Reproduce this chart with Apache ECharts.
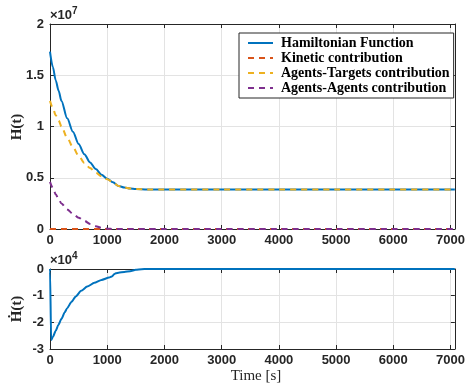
<!DOCTYPE html>
<html><head><meta charset="utf-8">
<script src="https://cdn.jsdelivr.net/npm/echarts@6/dist/echarts.min.js"></script>
<style>html,body{margin:0;padding:0;background:#fff}#c{width:468px;height:387px}</style>
</head><body><div id="c"></div>
<script>
// Top panel: H(t) in units of 1e7
const tTop = [0,50,100,150,200,300,400,500,600,700,800,900,1000,1100,1200,1300,1400,1500,1700,2000,3000,4000,5000,6000,7075];
const hamiltonian = [1.73,1.58,1.45,1.35,1.25,1.08,0.95,0.83,0.73,0.65,0.585,0.53,0.49,0.455,0.42,0.405,0.395,0.39,0.386,0.385,0.385,0.385,0.385,0.385,0.385];
const kinetic = [0,0,0,0,0,0,0,0,0,0,0,0,0,0,0,0,0,0,0,0,0,0,0,0,0];
const agentsTargets = [1.25,1.18,1.11,1.06,1.00,0.89,0.80,0.715,0.645,0.595,0.55,0.515,0.485,0.455,0.42,0.405,0.395,0.39,0.386,0.385,0.385,0.385,0.385,0.385,0.385];
const agentsAgents = [0.46,0.40,0.34,0.29,0.25,0.19,0.15,0.11,0.08,0.05,0.028,0.012,0.003,0,0,0,0,0,0,0,0,0,0,0,0];
// Bottom panel: dH/dt in units of 1e4
const tBot = [0,1,20,50,100,143,200,258,300,373,450,545,650,775,900,1033,1090,1119,1150,1200,1300,1400,1500,1600,1700,7075];
const hDot = [0,-0.1,-2.66,-2.55,-2.32,-2.11,-1.87,-1.62,-1.47,-1.24,-1.03,-0.82,-0.66,-0.52,-0.41,-0.32,-0.27,-0.2,-0.16,-0.14,-0.11,-0.08,-0.03,-0.005,0,0];
const xTicks = [0,1000,2000,3000,4000,5000,6000,7000];
const topYTicks = [0,0.5,1,1.5,2];
const botYTicks = [-3,-2,-1,0];
const seriesNames = ['Hamiltonian Function','Kinetic contribution','Agents-Targets contribution','Agents-Agents contribution'];

const X_MAX = 7075;
const axisCol = '#262626';
const gridCol = '#e3e3e3';
const tickFont = {fontFamily:'Liberation Sans, Arial, sans-serif', fontWeight:'bold', fontSize:13, color:'#262626'};
const zip = (xs, ys) => xs.map((x,i)=>[x, ys[i]]);

function xAx(gi, pos, labels){
  return {type:'value', gridIndex:gi, position:pos, min:0, max:X_MAX, interval:1000,
    axisLine:{show:true, onZero:false, lineStyle:{color:axisCol, width:1}},
    axisTick:{show:true, inside:true, length:4, lineStyle:{color:axisCol}},
    axisLabel:{show:labels, showMaxLabel:false, margin:5, formatter:v => xTicks.includes(v) ? String(v) : '', ...tickFont},
    splitLine:{show:pos==='bottom', lineStyle:{color:gridCol, width:1}}};
}
function yAx(gi, pos, min, max, interval, labels, ticks){
  return {type:'value', gridIndex:gi, position:pos, min, max, interval,
    axisLine:{show:true, onZero:false, lineStyle:{color:axisCol, width:1}},
    axisTick:{show:true, inside:true, length:4, lineStyle:{color:axisCol}},
    axisLabel:{show:labels, margin:6, formatter:v => ticks.includes(v) ? String(v) : '', ...tickFont},
    splitLine:{show:pos==='left', lineStyle:{color:gridCol, width:1}}};
}
const chart = echarts.init(document.getElementById('c'), null, {renderer:'canvas'});
const line = (name, data, color, dashed, xi, yi, smooth) => ({
  name, type:'line', data, xAxisIndex:xi, yAxisIndex:yi, showSymbol:false, symbol:'none',
  smooth: smooth, smoothMonotone:'x', animation:false,
  lineStyle:{color, width:2, type: dashed ? [6,5] : 'solid'}, itemStyle:{color}
});
chart.setOption({
  animation:false,
  grid:[{left:50, top:24, width:411, height:205}, {left:50, top:269, width:411, height:80}],
  xAxis:[xAx(0,'bottom',true), xAx(0,'top',false), xAx(1,'bottom',true), xAx(1,'top',false)],
  yAxis:[yAx(0,'left',0,2,0.5,true,topYTicks), yAx(0,'right',0,2,0.5,false,topYTicks), yAx(1,'left',-3,0,1,true,botYTicks), yAx(1,'right',-3,0,1,false,botYTicks)],
  legend:{left:239, top:33, orient:'vertical', data:seriesNames, backgroundColor:'#fff',
    itemStyle:{opacity:0},
    borderColor:axisCol, borderWidth:1, padding:[3,4,3,8], itemGap:1, itemWidth:25, itemHeight:10,
    textStyle:{fontFamily:'Liberation Serif, DejaVu Serif, serif', fontWeight:'bold', fontSize:14, lineHeight:14, color:'#000', padding:[0,0,0,3]}},
  series:[
    line(seriesNames[0], zip(tTop, hamiltonian), '#0072BD', false, 0, 0, 0.3),
    line(seriesNames[1], zip(tTop, kinetic), '#D95319', true, 0, 0, false),
    line(seriesNames[2], zip(tTop, agentsTargets), '#EDB120', true, 0, 0, 0.3),
    line(seriesNames[3], zip(tTop, agentsAgents), '#7E2F8E', true, 0, 0, 0.3),
    line('Hdot', zip(tBot, hDot), '#0072BD', false, 2, 2, 0.2)
  ],
  graphic:[
    {type:'text', left:50, top:6, style:{text:'×10{s|7}', rich:{s:{fontSize:10, verticalAlign:'top', fontFamily:'Liberation Sans, Arial', fontWeight:'bold', fill:'#262626', padding:[0,0,8,0]}}, fontFamily:'Liberation Sans, Arial', fontWeight:'bold', fontSize:13, fill:'#262626'}},
    {type:'text', left:50, top:251, style:{text:'×10{s|4}', rich:{s:{fontSize:10, verticalAlign:'top', fontFamily:'Liberation Sans, Arial', fontWeight:'bold', fill:'#262626', padding:[0,0,8,0]}}, fontFamily:'Liberation Sans, Arial', fontWeight:'bold', fontSize:13, fill:'#262626'}},
    {type:'text', x:17, y:127, rotation:Math.PI/2, style:{text:'H(t)', fontFamily:'Liberation Serif, DejaVu Serif, serif', fontWeight:'bold', fontSize:15, fill:'#262626', align:'center', verticalAlign:'middle'}},
    {type:'text', x:17, y:309, rotation:Math.PI/2, style:{text:'Ḣ(t)', fontFamily:'Liberation Serif, DejaVu Serif, serif', fontWeight:'bold', fontSize:15, fill:'#262626', align:'center', verticalAlign:'middle'}},
    {type:'text', x:256, y:376, style:{text:'Time [s]', fontFamily:'Liberation Serif, DejaVu Serif, serif', fontSize:15, fill:'#262626', align:'center', verticalAlign:'middle'}}
  ]
});
</script></body></html>
